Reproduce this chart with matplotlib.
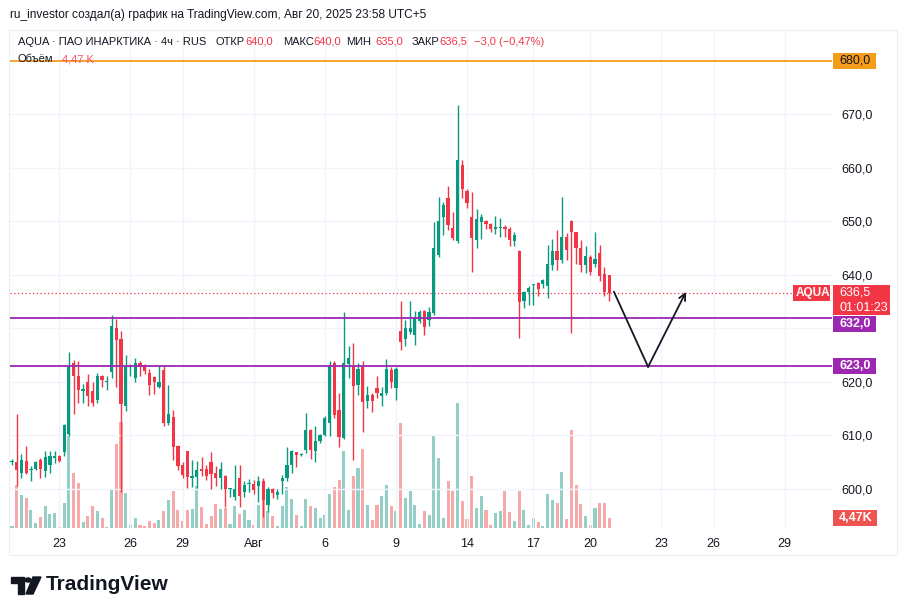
import matplotlib.pyplot as plt
import matplotlib.patches as mpatches
import numpy as np

plt.rcParams['font.family'] = ['Liberation Sans', 'DejaVu Sans']

# 4h candles, AQUA, from Jul 22 to Aug 20 2025
opens = [605.0, 605.0, 603.0, 605.3, 603.6, 603.8, 605.4, 603.4, 604.5, 605.8,
         606.1, 606.8, 610.3, 623.5, 621.0, 618.3, 620.0, 618.2, 616.6, 621.0,
         619.9, 621.9, 630.0, 628.0, 615.5, 622.8, 620.7, 623.6, 623.1, 621.6,
         620.9, 619.0, 622.2, 612.4, 613.5, 608.0, 604.5, 607.0, 602.0, 602.3,
         603.8, 603.7, 605.0, 603.0, 602.0, 602.4, 599.9, 598.5, 602.0, 599.5,
         600.9, 601.0, 600.5, 601.5, 597.0, 600.0, 598.9, 601.4, 602.0, 604.5,
         606.8, 606.4, 607.3, 611.0, 607.0, 608.9, 610.1, 612.3, 623.6, 614.7,
         609.5, 623.3, 623.0, 619.4, 622.8, 616.4, 617.5, 618.9, 617.4, 617.9,
         622.2, 618.9, 629.5, 628.0, 629.3, 628.8, 631.4, 633.2, 631.5, 632.8,
         643.7, 650.8, 654.4, 648.8, 646.3, 660.5, 655.6, 650.8, 646.5, 649.8,
         650.0, 649.4, 648.5, 648.7, 649.0, 648.5, 646.3, 644.4, 635.0, 636.8,
         638.0, 638.4, 638.2, 637.8, 641.8, 644.4, 642.7, 647.1, 650.0, 648.0,
         645.0, 641.9, 643.4, 642.0, 644.0, 640.2, 640.0]
highs = [605.6, 614.0, 606.5, 608.0, 604.3, 605.2, 605.8, 607.0, 607.0, 607.0,
         606.3, 612.2, 625.5, 624.0, 623.8, 619.5, 621.5, 620.0, 621.6, 621.2,
         621.0, 632.5, 631.7, 629.4, 625.0, 623.3, 624.4, 623.8, 623.3, 622.3,
         621.1, 623.0, 623.2, 619.4, 614.7, 608.2, 605.0, 607.1, 605.4, 605.2,
         606.0, 604.5, 606.8, 604.2, 605.0, 602.6, 600.2, 604.5, 604.5, 601.4,
         601.8, 601.6, 602.4, 602.0, 600.3, 600.2, 600.0, 602.6, 607.9, 607.3,
         606.9, 606.7, 614.1, 611.2, 611.7, 610.3, 613.6, 623.8, 623.8, 617.9,
         633.1, 626.6, 627.2, 623.5, 623.8, 619.2, 617.9, 621.1, 619.1, 624.3,
         622.8, 622.8, 635.0, 631.6, 635.0, 633.3, 633.5, 633.5, 634.0, 649.9,
         654.6, 653.5, 656.5, 651.8, 671.7, 661.4, 656.0, 655.5, 652.3, 651.3,
         650.3, 649.6, 651.0, 650.5, 649.3, 649.0, 648.0, 644.6, 637.0, 637.9,
         638.3, 638.6, 639.2, 645.6, 646.6, 648.3, 654.6, 647.7, 650.2, 648.0,
         646.5, 645.3, 643.6, 648.0, 645.6, 641.5, 640.0]
lows = [604.5, 600.5, 602.0, 602.8, 601.5, 603.6, 602.0, 602.3, 603.0, 604.8,
        605.0, 606.2, 609.8, 614.0, 616.0, 616.0, 615.5, 615.5, 616.0, 619.0,
        618.5, 620.7, 619.0, 599.5, 614.5, 621.0, 620.0, 621.0, 621.5, 617.5,
        617.8, 618.8, 611.8, 612.0, 605.4, 603.6, 602.0, 600.2, 600.4, 600.1,
        602.5, 601.7, 600.0, 600.6, 600.0, 596.6, 598.5, 597.9, 596.6, 598.5,
        599.5, 599.0, 597.6, 594.8, 595.6, 598.3, 598.2, 599.0, 601.4, 602.9,
        604.1, 606.2, 606.7, 605.6, 605.0, 608.6, 609.8, 609.8, 613.2, 607.9,
        609.3, 620.7, 605.4, 617.5, 610.7, 615.2, 614.3, 617.0, 615.4, 617.5,
        618.8, 616.6, 626.0, 626.7, 629.0, 626.9, 631.0, 628.8, 630.5, 632.5,
        643.4, 647.5, 648.3, 646.5, 645.9, 654.4, 652.5, 640.6, 644.9, 646.6,
        648.5, 648.0, 647.6, 647.0, 647.0, 645.4, 645.4, 628.1, 633.8, 634.4,
        634.4, 636.0, 637.5, 635.6, 640.8, 640.8, 642.1, 642.8, 629.1, 642.0,
        640.6, 640.4, 640.0, 641.5, 638.8, 636.0, 635.0]
closes = [605.1, 603.5, 605.4, 603.0, 603.8, 605.0, 603.7, 606.0, 606.2, 606.2,
          605.3, 612.0, 622.8, 621.0, 618.4, 618.6, 617.3, 616.0, 621.0, 620.3,
          620.1, 630.4, 627.8, 615.9, 623.0, 622.9, 623.5, 622.8, 622.1, 619.4,
          619.9, 620.0, 612.3, 614.0, 607.9, 604.3, 602.6, 602.3, 602.4, 603.5,
          603.4, 602.4, 602.8, 602.0, 603.8, 600.0, 600.1, 600.0, 598.6, 600.7,
          601.0, 599.8, 601.4, 598.0, 600.0, 599.3, 599.5, 602.0, 604.5, 607.0,
          606.4, 606.6, 611.0, 607.3, 608.9, 610.1, 613.2, 623.1, 613.8, 609.7,
          623.6, 624.4, 619.2, 622.4, 616.3, 617.5, 616.4, 617.9, 618.0, 622.4,
          619.9, 622.4, 627.4, 630.0, 630.0, 631.9, 633.0, 630.3, 633.0, 645.0,
          650.0, 653.0, 649.3, 646.8, 661.4, 656.0, 653.3, 646.9, 650.4, 650.8,
          649.4, 648.5, 649.0, 648.9, 648.5, 646.5, 647.4, 634.9, 636.8, 637.6,
          638.2, 637.3, 639.0, 642.0, 644.4, 642.7, 647.1, 644.6, 647.9, 644.9,
          641.8, 643.5, 640.5, 643.0, 639.8, 636.8, 636.5]
# volume, thousands of shares
volumes = [0.9, 19.2, 14.8, 13.4, 8.0, 2.2, 4.9, 9.8, 6.3, 6.7,
           0.4, 11.2, 42.5, 24.6, 20.1, 2.7, 5.4, 9.8, 7.6, 4.5,
           0.4, 17.0, 37.5, 47.4, 15.6, 1.3, 4.5, 1.3, 0.9, 3.1,
           2.2, 3.6, 7.6, 12.5, 16.5, 8.0, 3.1, 8.0, 8.5, 18.8,
           9.4, 1.8, 5.4, 10.7, 8.5, 8.9, 1.8, 9.8, 6.3, 8.0,
           3.6, 1.3, 10.3, 12.5, 7.6, 5.4, 0.9, 9.8, 18.3, 13.0,
           5.8, 0.9, 13.0, 9.8, 8.9, 4.5, 5.8, 15.2, 18.3, 21.5,
           34.4, 8.0, 23.2, 26.8, 35.3, 10.3, 3.6, 10.3, 14.3, 19.2,
           9.8, 7.6, 46.9, 13.4, 16.5, 10.3, 1.8, 7.6, 5.8, 41.6,
           31.3, 4.5, 21.0, 16.5, 55.9, 12.1, 4.0, 23.2, 8.9, 14.3,
           8.0, 1.3, 6.7, 7.6, 16.5, 7.2, 3.1, 16.5, 8.0, 1.3,
           4.5, 2.7, 0.9, 15.2, 12.5, 11.2, 25.0, 4.0, 43.8, 19.2,
           10.7, 5.4, 1.3, 8.9, 11.2, 11.2, 4.47]

date_labels = ['23', '26', '29', 'Авг', '6', '9', '14', '17', '20', '23', '26', '29']
date_bars = [10, 25, 36, 51, 66, 81, 96, 110, 122, 137, 148, 163]
price_ticks = [600, 610, 620, 630, 640, 650, 660, 670]
# 630 sits under the 632 level tag on the price scale
price_labels = ['600,0', '610,0', '620,0', '', '640,0', '650,0', '660,0', '670,0']

resistance = 680.0
levels = [632.0, 623.0]
last_price = 636.5
# hand-drawn forecast arrow (bar index, price)
arrow_x = [127.0, 134.2, 142.2]
arrow_y = [636.8, 622.8, 636.8]

GREEN = '#089981'
RED = '#f23645'
TEXT = '#131722'
PURPLE = '#9c27b0'
ORANGE = '#f59c1a'

W, H = 908, 616


def fx(x):
    return x / W


def fy(y):
    return 1 - y / H


fig = plt.figure(figsize=(W / 100, H / 100), dpi=100)
ax = fig.add_axes([fx(10), fy(528), 822 / W, 498 / H])
vol_ax = ax.twinx()
ax.set_zorder(2)
ax.patch.set_visible(False)
vol_ax.set_zorder(1)

x = np.arange(len(opens))
o = np.array(opens)
c = np.array(closes)
up = c >= o
colors = np.where(up, GREEN, RED)

# volume overlay
vol_colors = np.where(up, '#93cfc6', '#f5a9a9')
vol_ax.bar(x, volumes, width=0.65, color=vol_colors, linewidth=0)
vol_ax.set_ylim(0, max(volumes) * 3.98)
vol_ax.axis('off')

# candles
ax.vlines(x, lows, highs, colors=colors, linewidth=1.0, zorder=3)
body_low = np.minimum(o, c)
body_h = np.maximum(np.abs(c - o), 0.2)
ax.bar(x, body_h, bottom=body_low, width=0.68, color=colors, linewidth=0, zorder=4)

ax.set_xlim(-0.42, 173.0)
ax.set_ylim(592.7, 685.7)

ax.yaxis.tick_right()
ax.set_yticks(price_ticks)
ax.set_yticklabels(price_labels)
ax.set_xticks(date_bars)
ax.set_xticklabels(date_labels)
ax.tick_params(axis='both', length=0, labelsize=9, labelcolor=TEXT)
ax.tick_params(axis='y', pad=7)
ax.tick_params(axis='x', pad=7)
ax.grid(True, color='#f0f3fa', linewidth=1)
ax.set_axisbelow(True)
for s in ax.spines.values():
    s.set_visible(False)

# horizontal levels
ax.axhline(resistance, color=ORANGE, linewidth=1.3, zorder=5)
for lv in levels:
    ax.axhline(lv, color=PURPLE, linewidth=1.3, zorder=5)
ax.axhline(last_price, color=RED, linewidth=0.9, linestyle=(0, (1, 2)), zorder=2)

# forecast arrow
ax.plot(arrow_x[:2], arrow_y[:2], color=TEXT, linewidth=1.3, zorder=6)
ax.annotate('', xy=(arrow_x[2], arrow_y[2]), xytext=(arrow_x[1], arrow_y[1]),
            arrowprops=dict(arrowstyle='->', color=TEXT, lw=1.3,
                            mutation_scale=12, shrinkA=0, shrinkB=0), zorder=6)


def label_box(axis, value, lines, fc, tc, left=833, width=43, height=16, bold=True,
              dy=0, pad=6, size=9):
    # pill on the price scale, sized in pixels
    yc = H - axis.transData.transform((0, value))[1] + dy
    top = yc - height / 2
    fig.add_artist(mpatches.Rectangle((fx(left), fy(top + height)), width / W, height / H,
                                      facecolor=fc, edgecolor='none',
                                      transform=fig.transFigure, zorder=10))
    step = height / len(lines)
    for i, line in enumerate(lines):
        fig.text(fx(left + pad), fy(top + step * (i + 0.5)), line, fontsize=size, color=tc,
                 va='center', ha='left', fontweight='bold' if bold else 'normal', zorder=11)


label_box(ax, resistance, ['680,0'], ORANGE, TEXT, bold=False)
label_box(ax, levels[0], ['632,0'], PURPLE, 'white', dy=6)
label_box(ax, levels[1], ['623,0'], PURPLE, 'white')
label_box(ax, last_price, ['636,5', '01:01:23'], RED, 'white', width=57, height=30,
          bold=False, dy=7)
label_box(ax, last_price, ['AQUA'], RED, 'white', left=793, width=37, pad=3, size=8.5)
label_box(vol_ax, volumes[-1], ['4,47K'], '#ef5350', 'white', width=44)

# frame of the widget
fig.add_artist(mpatches.Rectangle((fx(9), fy(555)), (897 - 9) / W, (555 - 30) / H,
                                  fill=False, edgecolor='#eceef3', linewidth=0.8,
                                  transform=fig.transFigure))

# header texts
fig.text(fx(10), fy(15), 'ru_investor создал(а) график на TradingView.com, Авг 20, 2025 23:58 UTC+5',
         fontsize=8.6, color=TEXT, va='center')
hdr_y = fy(42)
header = [(18, 'AQUA · ПАО ИНАРКТИКА · 4ч · RUS', TEXT),
          (216, 'ОТКР', TEXT), (245, '640,0', RED),
          (283, 'МАКС', TEXT), (313, '640,0', RED),
          (346, 'МИН', TEXT), (375, '635,0', RED),
          (412, 'ЗАКР', TEXT), (439, '636,5', RED),
          (474, '−3,0 (−0,47%)', RED)]
for hx, txt, col in header:
    fig.text(fx(hx), hdr_y, txt, fontsize=8.0, color=col, va='center')
fig.text(fx(18), fy(59), 'Объём', fontsize=8.0, color=TEXT, va='center')
fig.text(fx(62), fy(59), '4,47 K', fontsize=8.0, color='#f7525f', va='center')

# TradingView logo
fig.add_artist(mpatches.Polygon([(fx(11), fy(577)), (fx(24), fy(577)), (fx(24), fy(594)),
                                 (fx(18), fy(594)), (fx(18), fy(583)), (fx(11), fy(583))],
                                closed=True, color=TEXT, transform=fig.transFigure))
fig.add_artist(mpatches.Circle((fx(28), fy(580)), 3 / W, color=TEXT, transform=fig.transFigure))
fig.add_artist(mpatches.Polygon([(fx(33), fy(577)), (fx(41), fy(577)), (fx(33), fy(594)),
                                 (fx(26), fy(594))],
                                closed=True, color=TEXT, transform=fig.transFigure))
fig.text(fx(46), fy(585), 'TradingView', fontsize=15, fontweight='bold', color=TEXT, va='center')

fig.savefig('out.png', dpi=100, facecolor='white')
